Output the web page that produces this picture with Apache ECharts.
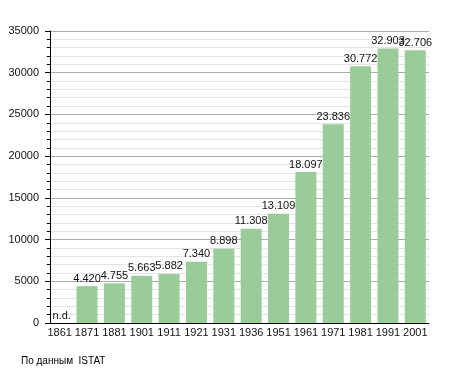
<!DOCTYPE html>
<html>
<head>
<meta charset="utf-8">
<script src="https://cdn.jsdelivr.net/npm/echarts@6/dist/echarts.min.js"></script>
<style>html,body{margin:0;padding:0;background:#fff}#c{width:455px;height:373px}</style>
</head>
<body>
<div id="c"></div>
<script>
var years = ['1861','1871','1881','1901','1911','1921','1931','1936','1951','1961','1971','1981','1991','2001'];
var population = [null,4420,4755,5663,5882,7340,8898,11308,13109,18097,23836,30772,32903,32706];
var yTicks = [0,5000,10000,15000,20000,25000,30000,35000];
var sourceText = 'По данным  ISTAT';

function fmt(v){ return String(v).replace(/\B(?=(\d{3})+(?!\d))/g,'.'); }

var seriesData = population.map(function(v){
  return v == null ? {value:0, label:{formatter:'n.d.', offset:[2,0]}} : {value:v};
});

var chart = echarts.init(document.getElementById('c'), null, {renderer:'canvas'});
chart.setOption({
  animation:false,
  backgroundColor:'#fff',
  textStyle:{fontFamily:'Liberation Sans, Arial, sans-serif'},
  title:{text:sourceText,left:21,top:356,padding:0,textStyle:{fontSize:10,fontWeight:'normal',color:'#000',fontFamily:'Liberation Sans, Arial, sans-serif'}},
  grid:{left:46,right:26,top:31,bottom:50,containLabel:false},
  xAxis:{
    type:'category',data:years,
    axisLine:{lineStyle:{color:'#000',width:1}},
    axisTick:{show:false},
    axisLabel:{color:'#111',fontSize:11,margin:4,interval:0}
  },
  yAxis:{
    type:'value',min:yTicks[0],max:yTicks[yTicks.length-1],interval:5000,offset:-4,
    axisLine:{show:true,lineStyle:{color:'#000',width:1}},
    axisTick:{show:true,length:5,lineStyle:{color:'#000'}},
    minorTick:{show:true,splitNumber:5,length:3,lineStyle:{color:'#000'}},
    splitLine:{show:true,lineStyle:{color:'#aaaaaa',width:1}},
    minorSplitLine:{show:true,lineStyle:{color:'#e3e3e3',width:1}},
    axisLabel:{color:'#111',fontSize:11,margin:11,formatter:function(v){return String(v);}}
  },
  series:[{
    type:'bar',data:seriesData,barWidth:21,
    itemStyle:{color:'#99cc99'},
    label:{show:true,position:'top',distance:2,color:'#111',fontSize:11,
      formatter:function(p){return fmt(p.value);}}
  }]
});
</script>
</body>
</html>
